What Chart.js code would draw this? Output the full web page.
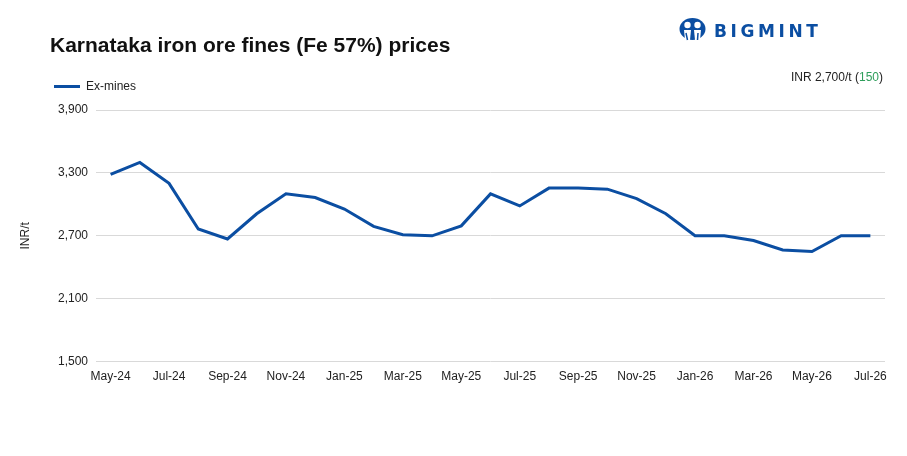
<!DOCTYPE html>
<html>
<head>
<meta charset="utf-8">
<script src="https://cdn.jsdelivr.net/npm/chart.js@4"></script>
<style>
  html, body { margin: 0; padding: 0; background: #fff; }
  body { width: 907px; height: 456px; position: relative; overflow: hidden;
         font-family: "Liberation Sans", Arial, sans-serif; color: #222; }
  #wrap { position: absolute; left: 0; top: 0; width: 907px; height: 456px; }
  #title { position: absolute; left: 50px; top: 33px; font-size: 21px; font-weight: bold; color: #111; white-space: nowrap; }
  #logo { position: absolute; left: 679px; top: 18px; display: flex; align-items: center; }
  #logo span { font-size: 17px; font-weight: 900; color: #0b4ea2; letter-spacing: 3.6px; margin-left: 8px; margin-top: 2px; font-family: "DejaVu Sans", "Liberation Sans", sans-serif; }
  #note { position: absolute; right: 24px; top: 70px; font-size: 12px; color: #222; }
  #note b { font-weight: normal; color: #2e9e5b; }
</style>
</head>
<body>
<div id="wrap"><canvas id="priceChart"></canvas></div>
<div id="title">Karnataka iron ore fines (Fe 57%) prices</div>
<div id="logo">
  <svg width="27" height="24" viewBox="0 0 27 24">
    <ellipse cx="13.5" cy="11" rx="13" ry="11" fill="#0b4ea2"/>
    <circle cx="8.5" cy="7" r="3.2" fill="#fff"/>
    <circle cx="18.5" cy="7" r="3.2" fill="#fff"/>
    <path d="M5 12 L12 12 L11 22 L6 22 Z" fill="#fff"/>
    <path d="M15 12 L22 12 L21 22 L16 22 Z" fill="#fff"/>
    <path d="M7 15 L8.5 22 M19 15 L18.5 22" stroke="#0b4ea2" stroke-width="1.5"/>
  </svg>
  <span>BIGMINT</span>
</div>
<div id="note">INR 2,700/t (<b>150</b>)</div>

<script>
const months = ["May-24", "Jun-24", "Jul-24", "Aug-24", "Sep-24", "Oct-24", "Nov-24", "Dec-24",
  "Jan-25", "Feb-25", "Mar-25", "Apr-25", "May-25", "Jun-25", "Jul-25", "Aug-25", "Sep-25",
  "Oct-25", "Nov-25", "Dec-25", "Jan-26", "Feb-26", "Mar-26", "Apr-26", "May-26", "Jun-26", "Jul-26"];
const exMines = [3285, 3400, 3200, 2765, 2670, 2910, 3100, 3065, 2955, 2790, 2710, 2700, 2795,
  3100, 2985, 3155, 3155, 3145, 3055, 2910, 2700, 2700, 2655, 2565, 2550, 2700, 2700];
const yTicks = [1500, 2100, 2700, 3300, 3900];

const lineColor = "#0b4ea2";

// extra room between legend and plot area
const legendGap = {
  id: "legendGap",
  beforeInit(chart) {
    const originalFit = chart.legend.fit;
    chart.legend.fit = function fit() {
      originalFit.bind(chart.legend)();
      this.height += 7.5;
    };
  }
};

Chart.defaults.font.family = '"Liberation Sans", Arial, sans-serif';
Chart.defaults.font.size = 12;
Chart.defaults.color = "#222";

const ctx = document.getElementById("priceChart").getContext("2d");

new Chart(ctx, {
  type: "line",
  data: {
    labels: months,
    datasets: [{
      label: "Ex-mines",
      data: exMines,
      borderColor: lineColor,
      backgroundColor: lineColor,
      borderWidth: 3,
      pointRadius: 0,
      tension: 0,
      fill: false
    }]
  },
  options: {
    responsive: true,
    maintainAspectRatio: false,
    animation: false,
    layout: { padding: { top: 44.5, left: 18, right: 22, bottom: 64 } },
    plugins: {
      legend: {
        position: "top",
        align: "start",
        labels: {
          boxWidth: 26,
          boxHeight: 3,
          padding: 36,
          color: "#222",
          generateLabels: function (chart) {
            return Chart.defaults.plugins.legend.labels.generateLabels(chart)
              .map(item => Object.assign(item, { lineWidth: 0 }));
          }
        }
      },
      tooltip: { enabled: false }
    },
    scales: {
      x: {
        offset: true,
        grid: { display: false, drawTicks: false },
        border: { display: false },
        ticks: {
          autoSkip: false,
          maxRotation: 0,
          padding: 8,
          callback: function (value, index) {
            return index % 2 === 0 ? months[index] : "";
          }
        }
      },
      y: {
        min: yTicks[0],
        max: yTicks[yTicks.length - 1],
        afterBuildTicks: function (scale) {
          scale.ticks = yTicks.map(v => ({ value: v }));
        },
        afterFit: function (scale) {
          scale.width = 78;
        },
        grid: { color: "#d9d9d9", drawTicks: false },
        border: { display: false },
        ticks: {
          padding: 8,
          callback: function (value) {
            return value.toLocaleString("en-US");
          }
        },
        title: { display: true, text: "INR/t", padding: { top: 0, bottom: 0 } }
      }
    }
  },
  plugins: [legendGap]
});
</script>
</body>
</html>
